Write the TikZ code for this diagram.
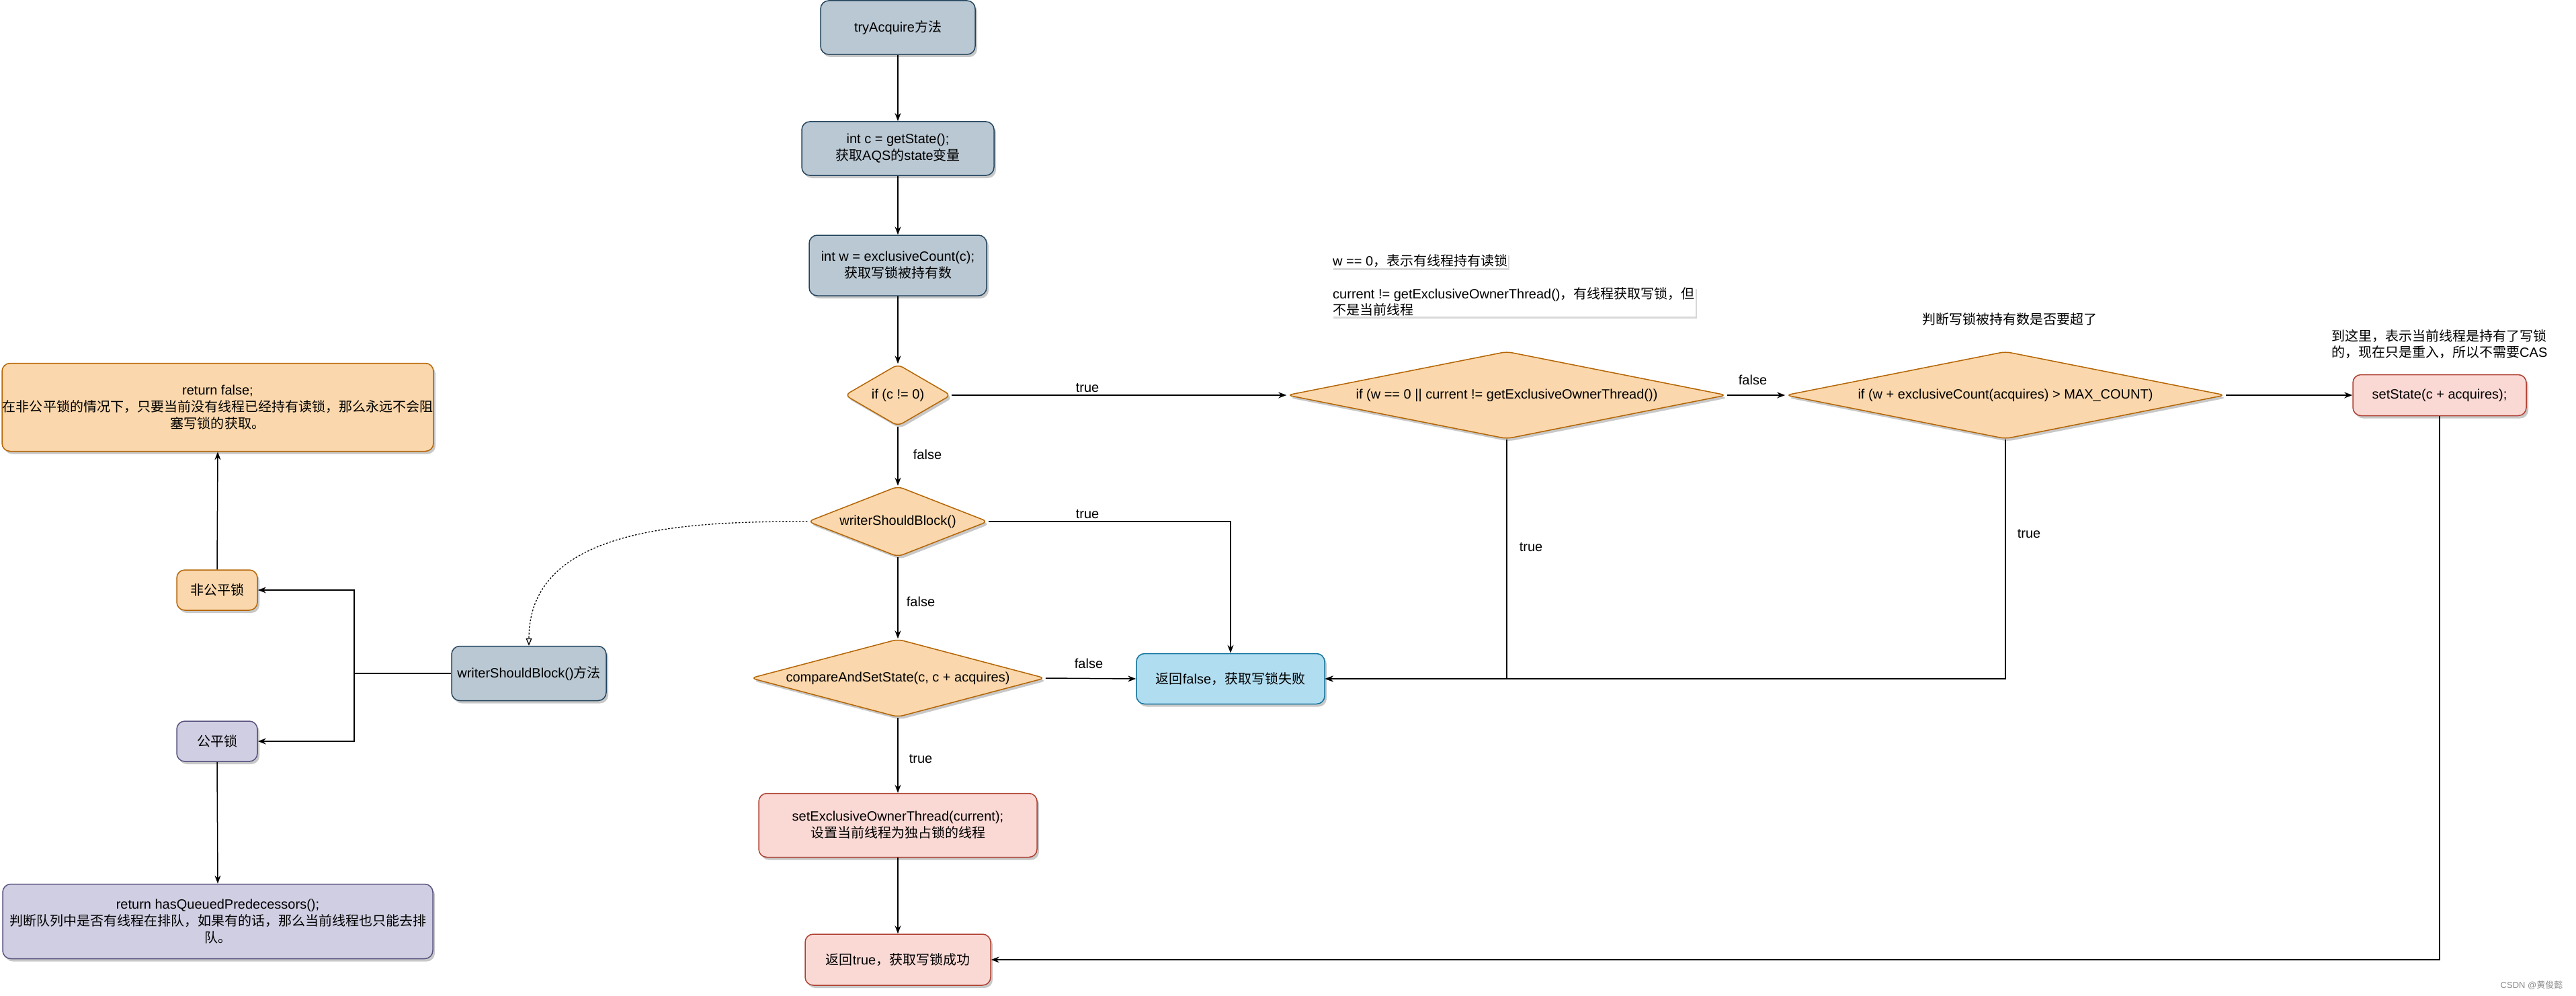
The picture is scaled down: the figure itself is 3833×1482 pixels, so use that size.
\documentclass[tikz,border=0pt]{standalone}
\usepackage{fontspec}
\setmainfont{Liberation Sans}
\newfontfamily\cjkfont{Noto Sans CJK SC}
\newcommand{\zh}[1]{{\cjkfont #1}}
\usetikzlibrary{shapes.geometric,arrows.meta,shadows}
\definecolor{gyF}{HTML}{BAC8D3}\definecolor{gyD}{HTML}{23445D}
\definecolor{orF}{HTML}{FAD7AC}\definecolor{orD}{HTML}{B46504}
\definecolor{pkF}{HTML}{FAD9D5}\definecolor{pkD}{HTML}{AE4132}
\definecolor{buF}{HTML}{B1DDF0}\definecolor{buD}{HTML}{10739E}
\definecolor{puF}{HTML}{D0CEE2}\definecolor{puD}{HTML}{56517E}
\tikzset{
  base/.style={font=\fontsize{20}{25}\selectfont, align=center, line width=1.5pt, inner sep=0pt,
    drop shadow={shadow xshift=3pt,shadow yshift=-4pt,opacity=0.3,fill=black!70}},
  box/.style n args={2}{base, rectangle, rounded corners=12pt, minimum width=#1pt, minimum height=#2pt},
  dia/.style n args={2}{base, diamond, rounded corners=8pt, fill=orF, draw=orD, minimum width=#1pt, minimum height=#2pt},
  gy/.style={fill=gyF, draw=gyD},
  orb/.style={fill=orF, draw=orD},
  pk/.style={fill=pkF, draw=pkD},
  bu/.style={fill=buF, draw=buD},
  pu/.style={fill=puF, draw=puD},
  edge/.style={line width=1.5pt, -{Stealth[length=12pt,width=9pt]}},
  elab/.style={font=\fontsize{20}{24}\selectfont, inner sep=1pt},
  note/.style={font=\fontsize{20}{24}\selectfont, align=left, inner sep=1pt},
  notebox/.style={note, fill=white, drop shadow={shadow xshift=2pt,shadow yshift=-3pt,opacity=0.25,fill=black!60}}
}
\begin{document}
\begin{tikzpicture}[x=1pt,y=-1pt]
\useasboundingbox[fill=white] (0,0) rectangle (3833,1482);
% main column
\node[box={230}{80}, gy] (try) at (1336,41) {tryAcquire\zh{方法}};
\node[box={286}{80}, gy] (gs) at (1336,221) {int c = getState();\\\zh{获取}AQS\zh{的}state\zh{变量}};
\node[box={264}{90}, gy] (ec) at (1336,395) {int w = exclusiveCount(c);\\\zh{获取写锁被持有数}};
\node[dia={158}{92}] (d1) at (1336,588) {\makebox[0pt]{if (c != 0)}};
\node[dia={268}{105}] (wsb) at (1336,776) {\makebox[0pt]{writerShouldBlock()}};
\node[dia={438}{116}] (cas) at (1336,1009) {\makebox[0pt]{compareAndSetState(c, c + acquires)}};
\node[box={414}{95}, pk] (seo) at (1336,1228) {setExclusiveOwnerThread(current);\\\zh{设置当前线程为独占锁的线程}};
\node[box={276}{76}, pk] (rt) at (1336,1428) {\zh{返回}true\zh{，获取写锁成功}};
\node[box={280}{75}, bu] (rf) at (1831,1010) {\zh{返回}false\zh{，获取写锁失败}};
% right side
\node[dia={654}{130}] (d2) at (2242,588) {\makebox[0pt]{if (w == 0 || current != getExclusiveOwnerThread())}};
\node[dia={654}{130}] (d3) at (2984,588) {\makebox[0pt]{if (w + exclusiveCount(acquires) > MAX\_COUNT)}};
\node[box={258}{61}, pk] (ss) at (3630,588) {setState(c + acquires);};
% left side
\node[box={642}{131}, orb] (retf) at (324,606) {return false;\\\zh{在非公平锁的情况下，只要当前没有线程已经持有读锁，那么永远不会阻}\\\zh{塞写锁的获取。}};
\node[box={120}{60}, orb] (unfair) at (323,878) {\zh{非公平锁}};
\node[box={120}{60}, pu] (fair) at (323,1103) {\zh{公平锁}};
\node[box={230}{81}, gy] (wsbm) at (787,1002) {writerShouldBlock()\zh{方法}};
\node[box={640}{111}, pu] (rhq) at (324,1371) {return hasQueuedPredecessors();\\\zh{判断队列中是否有线程在排队，如果有的话，那么当前线程也只能去排}\\\zh{队。}};
\coordinate (split) at (527,1002);
% notes
\node[notebox, anchor=west] (n1) at (1982,388) {w == 0\zh{，表示有线程持有读锁}};
\node[notebox, anchor=west] (n2) at (1982,449) {current != getExclusiveOwnerThread()\zh{，有线程获取写锁，但}\\\zh{不是当前线程}};
\node[note, anchor=center] (n3) at (2990,475) {\zh{判断写锁被持有数是否要超了}};
\node[note, anchor=west] (n4) at (3468,512) {\zh{到这里，表示当前线程是持有了写锁}\\\zh{的，现在只是重入，所以不需要}CAS};
\node[font=\fontsize{13}{15}\selectfont, text=black!45, inner sep=0pt] (wm) at (3767,1466) {CSDN @\zh{黄俊懿}};
% edges
\draw[edge] (try) -- (gs);
\draw[edge] (gs) -- (ec);
\draw[edge] (ec) -- (d1);
\draw[edge] (d1) -- (d2);
\draw[edge] (d1) -- (wsb);
\draw[edge] (wsb.east) -| (rf.north);
\draw[edge] (wsb) -- (cas);
\draw[edge] (cas.east) -- (rf.west);
\draw[edge] (cas) -- (seo);
\draw[edge] (seo) -- (rt);
\draw[edge] (d2.east) -- (d3.west);
\draw[edge] (d2.south) |- (rf.east);
\draw[edge] (d3.south) |- (rf.east);
\draw[edge] (d3.east) -- (ss.west);
\draw[edge] (ss.south) |- (rt.east);
\draw[edge] (wsbm.west) -- (split) |- (unfair.east);
\draw[edge] (wsbm.west) -- (split) |- (fair.east);
\draw[edge] (unfair.north) -- (retf.south);
\draw[edge] (fair.south) -- (rhq.north);
\draw[line width=1.3pt, dash pattern=on 2.5pt off 2.5pt, -{Triangle[open,length=11pt,width=9pt]}] (wsb.west) to[out=180,in=90] (wsbm.north);
% edge labels
\node[elab] (l1) at (1618,577) {true};
\node[elab] (l2) at (1380,676) {false};
\node[elab] (l3) at (1618,765) {true};
\node[elab] (l4) at (1370,895) {false};
\node[elab] (l5) at (1620,987) {false};
\node[elab] (l6) at (1370,1129) {true};
\node[elab] (l7) at (2608,565) {false};
\node[elab] (l8) at (2278,814) {true};
\node[elab] (l9) at (3019,794) {true};
\end{tikzpicture}
\end{document}
